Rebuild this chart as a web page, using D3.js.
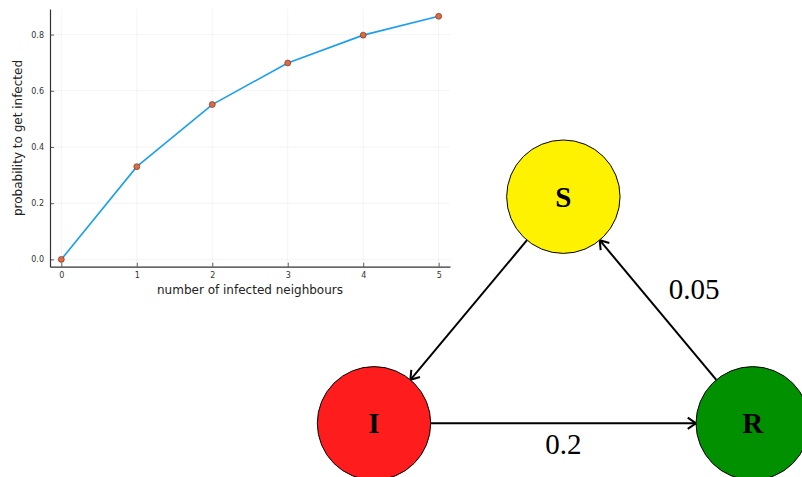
<!DOCTYPE html>
<html><head><meta charset="utf-8">
<script src="https://cdn.jsdelivr.net/npm/d3@7"></script>
<style>body{margin:0;background:#fff}svg{display:block}</style>
</head><body>
<svg id="c" width="802" height="477"></svg>
<script>
// ---- data ----
const neighbours = [0, 1, 2, 3, 4, 5];
const probability = [0, 0.33, 0.551, 0.699, 0.798, 0.865];
const xTicks = [0, 1, 2, 3, 4, 5];
const yTicks = [0.0, 0.2, 0.4, 0.6, 0.8];
const xLabel = "number of infected neighbours";
const yLabel = "probability to get infected";

const nodeNames = ["S", "I", "R"];
const nodeColors = ["#fff200", "#ff1c1c", "#009000"];
const edgeFrom = ["S", "I", "R"];
const edgeTo = ["I", "R", "S"];
const edgeLabels = ["", "0.2", "0.05"];

const svg = d3.select("#c");

// ---- line plot ----
const x = d3.scaleLinear().domain([-0.15, 5.15]).range([50, 450]);
const y = d3.scaleLinear().domain([-0.026, 0.891]).range([266.7, 9]);

const g = svg.append("g");
// grid
g.selectAll(".gx").data(xTicks).join("line")
  .attr("x1", d => x(d)).attr("x2", d => x(d)).attr("y1", y.range()[0]).attr("y2", y.range()[1])
  .attr("stroke", "#000").attr("stroke-opacity", 0.08).attr("stroke-width", 0.6);
g.selectAll(".gy").data(yTicks).join("line")
  .attr("y1", d => y(d)).attr("y2", d => y(d)).attr("x1", x.range()[0]).attr("x2", x.range()[1])
  .attr("stroke", "#000").attr("stroke-opacity", 0.08).attr("stroke-width", 0.6);

const xAxis = d3.axisBottom(x).tickValues(xTicks).tickFormat(d3.format("d")).tickSizeInner(-4).tickSizeOuter(0).tickPadding(6);
const yAxis = d3.axisLeft(y).tickValues(yTicks).tickFormat(d3.format(".1f")).tickSizeInner(-4).tickSizeOuter(0).tickPadding(6);
const ax = g.append("g").attr("transform", `translate(0,${y.range()[0]})`).call(xAxis);
const ay = g.append("g").attr("transform", `translate(${x.range()[0]},0)`).call(yAxis);
[ax, ay].forEach(a => {
  a.select(".domain").attr("stroke", "#333").attr("stroke-width", 1.2);
  a.selectAll(".tick line").attr("stroke", "#333").attr("stroke-width", 0.8);
  a.selectAll(".tick text").attr("font-family", "DejaVu Sans, sans-serif").attr("font-size", 8).attr("fill", "#333");
});

g.append("text").attr("x", 250).attr("y", 294).attr("text-anchor", "middle")
  .attr("font-family", "DejaVu Sans, sans-serif").attr("font-size", 12).attr("fill", "#222").text(xLabel);
g.append("text").attr("transform", "translate(21.5,138) rotate(-90)").attr("text-anchor", "middle")
  .attr("font-family", "DejaVu Sans, sans-serif").attr("font-size", 12).attr("fill", "#222").text(yLabel);

const pts = neighbours.map((n, i) => [n, probability[i]]);
g.append("path").datum(pts)
  .attr("d", d3.line().x(d => x(d[0])).y(d => y(d[1])))
  .attr("fill", "none").attr("stroke", "#1a9ff0").attr("stroke-width", 1.6);
g.selectAll(".pt").data(pts).join("circle")
  .attr("cx", d => x(d[0])).attr("cy", d => y(d[1])).attr("r", 3)
  .attr("fill", "#e2693f").attr("stroke", "#5a3020").attr("stroke-width", 0.6);

// ---- SIR diagram ----
const dx = d3.scaleLinear().domain([0, 2]).range([374, 752.7]);
const dy = d3.scaleLinear().domain([0, 1]).range([423.3, 196.7]);
const layout = { S: [1, 1], I: [0, 0], R: [2, 0] };
const rad = 56.7;
const pos = name => [dx(layout[name][0]), dy(layout[name][1])];

const dg = svg.append("g");
edgeFrom.forEach((f, i) => {
  const [x1, y1] = pos(f), [x2, y2] = pos(edgeTo[i]);
  const ang = Math.atan2(y2 - y1, x2 - x1);
  const sx = x1 + Math.cos(ang) * rad, sy = y1 + Math.sin(ang) * rad;
  const ex = x2 - Math.cos(ang) * rad, ey = y2 - Math.sin(ang) * rad;
  dg.append("line").attr("x1", sx).attr("y1", sy).attr("x2", ex).attr("y2", ey)
    .attr("stroke", "#000").attr("stroke-width", 2);
  const h = 10, a = 0.6;
  const p = [[ex - h * Math.cos(ang - a), ey - h * Math.sin(ang - a)], [ex, ey], [ex - h * Math.cos(ang + a), ey - h * Math.sin(ang + a)]];
  dg.append("path").attr("d", d3.line()(p)).attr("fill", "none").attr("stroke", "#000").attr("stroke-width", 2);
});

dg.selectAll(".node").data(nodeNames).join("circle")
  .attr("cx", d => pos(d)[0]).attr("cy", d => pos(d)[1]).attr("r", rad)
  .attr("fill", (d, i) => nodeColors[i]).attr("stroke", "#000").attr("stroke-width", 1);
dg.selectAll(".nlab").data(nodeNames).join("text")
  .attr("x", d => pos(d)[0]).attr("y", d => pos(d)[1] + 10).attr("text-anchor", "middle")
  .attr("font-family", "Liberation Serif, Times New Roman, serif").attr("font-weight", "bold").attr("font-size", 29)
  .text(d => d);

// edge labels
const labelPos = { "0.2": [1, -0.135], "0.05": [1.69, 0.548] };
edgeLabels.forEach(t => {
  if (!t) return;
  dg.append("text").attr("x", dx(labelPos[t][0])).attr("y", dy(labelPos[t][1])).attr("text-anchor", "middle")
    .attr("font-family", "Liberation Serif, Times New Roman, serif").attr("font-size", 29).text(t);
});
</script>
</body></html>
